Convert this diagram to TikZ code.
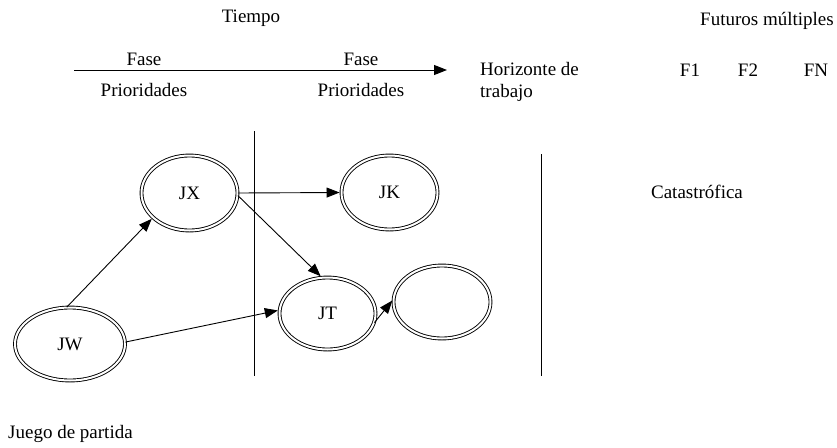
\documentclass[tikz,border=0pt]{standalone}
\usepackage{fontspec}
\setmainfont{Liberation Serif}
\usetikzlibrary{arrows.meta,shapes.geometric}
\begin{document}
\begin{tikzpicture}[x=1pt,y=-1pt,
  font=\fontsize{19}{22}\selectfont,
  state/.style={draw, ellipse, double, line width=0.9pt, double distance=2pt, inner sep=0pt},
  link/.style={line width=0.9pt, -{Triangle[length=13pt,width=10pt]}},
  lbl/.style={inner sep=0pt, anchor=base},
  rule/.style={line width=0.9pt}]
\useasboundingbox (0,0) rectangle (837,447);

% top labels
\node[lbl] (tiempo) at (251,22) {Tiempo};
\node[lbl] (futuros) at (767,25) {Futuros múltiples};

% time arrow
\coordinate (ta) at (74,70);
\coordinate (tb) at (447,70);
\draw[line width=1pt, -{Triangle[length=13pt,width=10pt]}] (ta) -- (tb);
\node[lbl] (fase1) at (144,65) {Fase};
\node[lbl] (fase2) at (361,65) {Fase};
\node[lbl] (prio1) at (144,96) {Prioridades};
\node[lbl] (prio2) at (361,96) {Prioridades};
\node[lbl, anchor=base west] (hor1) at (480,75) {Horizonte de};
\node[lbl, anchor=base west] (hor2) at (480,97) {trabajo};
\node[lbl] (f1) at (690,76) {F1};
\node[lbl] (f2) at (748,76) {F2};
\node[lbl] (fn) at (816,76) {FN};

% vertical rules
\coordinate (v1a) at (254,131);
\coordinate (v1b) at (254,376);
\coordinate (v2a) at (541,154);
\coordinate (v2b) at (541,376);
\draw[rule] (v1a) -- (v1b);
\draw[rule] (v2a) -- (v2b);

\node[lbl] (cat) at (697,198) {Catastrófica};
\node[lbl, anchor=base west] (juego) at (8,438) {Juego de partida};

% states
\node[state, minimum width=110pt, minimum height=73pt] (JW) at (70,344) {JW};
\node[state, minimum width=96pt, minimum height=75pt] (JX) at (189.5,193) {JX};
\node[state, minimum width=96pt, minimum height=74pt] (JK) at (389.5,192.5) {JK};
\node[state, minimum width=96pt, minimum height=72pt] (JT) at (327.5,313.5) {JT};
\node[state, minimum width=97pt, minimum height=73pt] (JE) at (442,302) {};

% connectors
\draw[link, shorten >=1.5pt] (JW.95) -- (JX.214);
\draw[link, shorten >=1.5pt] (JW.2) -- (JT.176);
\draw[link, shorten >=1.5pt] (JX.0) -- (JK.180);
\draw[link, shorten >=1.5pt] (JX.-3) -- (JT.99);
\draw[link, shorten >=1.5pt] (JT.-11) -- (JE.177);
\end{tikzpicture}
\end{document}
